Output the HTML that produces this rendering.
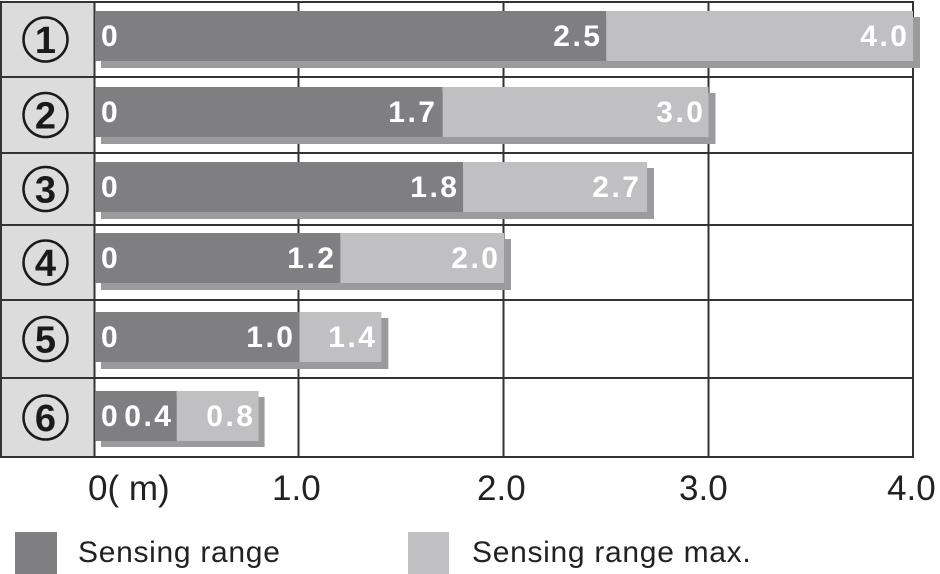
<!DOCTYPE html>
<html>
<head>
<meta charset="utf-8">
<style>
html,body{margin:0;padding:0;background:#fff;}
svg{display:block;}
.bl{font-family:"Liberation Sans",sans-serif;font-weight:bold;font-size:30px;fill:#fff;letter-spacing:2.5px;}
.ax{font-family:"Liberation Sans",sans-serif;font-size:35px;fill:#222;}
.lg{font-family:"Liberation Sans",sans-serif;font-size:30px;fill:#222;letter-spacing:0.7px;}
.cd{font-family:"Liberation Sans",sans-serif;font-weight:bold;font-size:38px;fill:#1a1a1a;}
</style>
</head>
<body>
<svg width="940" height="574" viewBox="0 0 940 574" xmlns="http://www.w3.org/2000/svg">
<rect x="0" y="0" width="940" height="574" fill="#fff"/>
<!-- left column -->
<rect x="1" y="2" width="93.5" height="455" fill="#dcdcdd"/>
<!-- grid -->
<g stroke="#333" stroke-width="2">
<line x1="1" y1="1" x2="1" y2="458"/>
<line x1="94.5" y1="1" x2="94.5" y2="458"/>
<line x1="298.5" y1="1" x2="298.5" y2="458"/>
<line x1="503.5" y1="1" x2="503.5" y2="458"/>
<line x1="708.5" y1="1" x2="708.5" y2="458"/>
<line x1="913" y1="1" x2="913" y2="458"/>
<line x1="0" y1="2" x2="914" y2="2"/>
<line x1="0" y1="77" x2="914" y2="77"/>
<line x1="0" y1="153" x2="914" y2="153"/>
<line x1="0" y1="225" x2="914" y2="225"/>
<line x1="0" y1="300" x2="914" y2="300"/>
<line x1="0" y1="378" x2="914" y2="378"/>
<line x1="0" y1="457" x2="914" y2="457"/>
</g>
<!-- circled digits -->
<g fill="none" stroke="#1a1a1a" stroke-width="2.5">
<circle cx="45.5" cy="39.5" r="22"/>
<circle cx="45.5" cy="115" r="22"/>
<circle cx="45.5" cy="189" r="22"/>
<circle cx="45.5" cy="262.5" r="22"/>
<circle cx="45.5" cy="339" r="22"/>
<circle cx="45.5" cy="417.5" r="22"/>
</g>
<g class="cd" text-anchor="middle">
<text x="45.5" y="53">1</text>
<text x="45.5" y="128.5">2</text>
<text x="45.5" y="202.5">3</text>
<text x="45.5" y="276">4</text>
<text x="45.5" y="352.5">5</text>
<text x="45.5" y="431">6</text>
</g>
<!-- bars: row1 -->
<rect x="101" y="17" width="819" height="51" fill="#9b9b9e"/>
<rect x="95" y="11" width="511.3" height="50" fill="#7f7f82"/>
<rect x="606.3" y="11" width="306.7" height="50" fill="#c0c0c2"/>
<!-- row2 -->
<rect x="101" y="93" width="614.5" height="51" fill="#9b9b9e"/>
<rect x="95" y="87" width="347.7" height="50" fill="#7f7f82"/>
<rect x="442.7" y="87" width="265.8" height="50" fill="#c0c0c2"/>
<!-- row3 -->
<rect x="101" y="168" width="553" height="51" fill="#9b9b9e"/>
<rect x="95" y="162" width="368.1" height="50" fill="#7f7f82"/>
<rect x="463.1" y="162" width="184" height="50" fill="#c0c0c2"/>
<!-- row4 -->
<rect x="101" y="239" width="410" height="51" fill="#9b9b9e"/>
<rect x="95" y="233" width="245.4" height="50" fill="#7f7f82"/>
<rect x="340.4" y="233" width="163.6" height="50" fill="#c0c0c2"/>
<!-- row5 -->
<rect x="101" y="318" width="287.3" height="51" fill="#9b9b9e"/>
<rect x="95" y="312" width="204.5" height="50" fill="#7f7f82"/>
<rect x="299.5" y="312" width="81.8" height="50" fill="#c0c0c2"/>
<!-- row6 -->
<rect x="101" y="397" width="163.6" height="50" fill="#9b9b9e"/>
<rect x="95" y="391" width="81.8" height="50" fill="#7f7f82"/>
<rect x="176.8" y="391" width="81.8" height="50" fill="#c0c0c2"/>
<!-- bar labels -->
<g class="bl">
<text x="101" y="46">0</text>
<text x="101" y="122">0</text>
<text x="101" y="197">0</text>
<text x="101" y="268">0</text>
<text x="101" y="347">0</text>
<text x="101" y="426">0</text>
</g>
<g class="bl" text-anchor="end">
<text x="602.5" y="46">2.5</text>
<text x="909.5" y="46">4.0</text>
<text x="437.5" y="122">1.7</text>
<text x="705.5" y="122">3.0</text>
<text x="459.5" y="197">1.8</text>
<text x="641.5" y="197">2.7</text>
<text x="336.5" y="268">1.2</text>
<text x="500.5" y="268">2.0</text>
<text x="295.5" y="347">1.0</text>
<text x="377.5" y="347">1.4</text>
<text x="173.5" y="426">0.4</text>
<text x="255.5" y="426">0.8</text>
</g>
<!-- axis labels -->
<g class="ax">
<text x="88" y="500">0( m)</text>
<text x="272" y="500">1.0</text>
<text x="477" y="500">2.0</text>
<text x="679" y="500">3.0</text>
<text x="887" y="500">4.0</text>
</g>
<!-- legend -->
<rect x="15" y="532" width="42" height="42" fill="#7f7f82"/>
<text class="lg" x="78" y="562">Sensing range</text>
<rect x="408" y="532" width="41" height="42" fill="#c0c0c2"/>
<text class="lg" x="472" y="562">Sensing range max.</text>
</svg>
</body>
</html>
